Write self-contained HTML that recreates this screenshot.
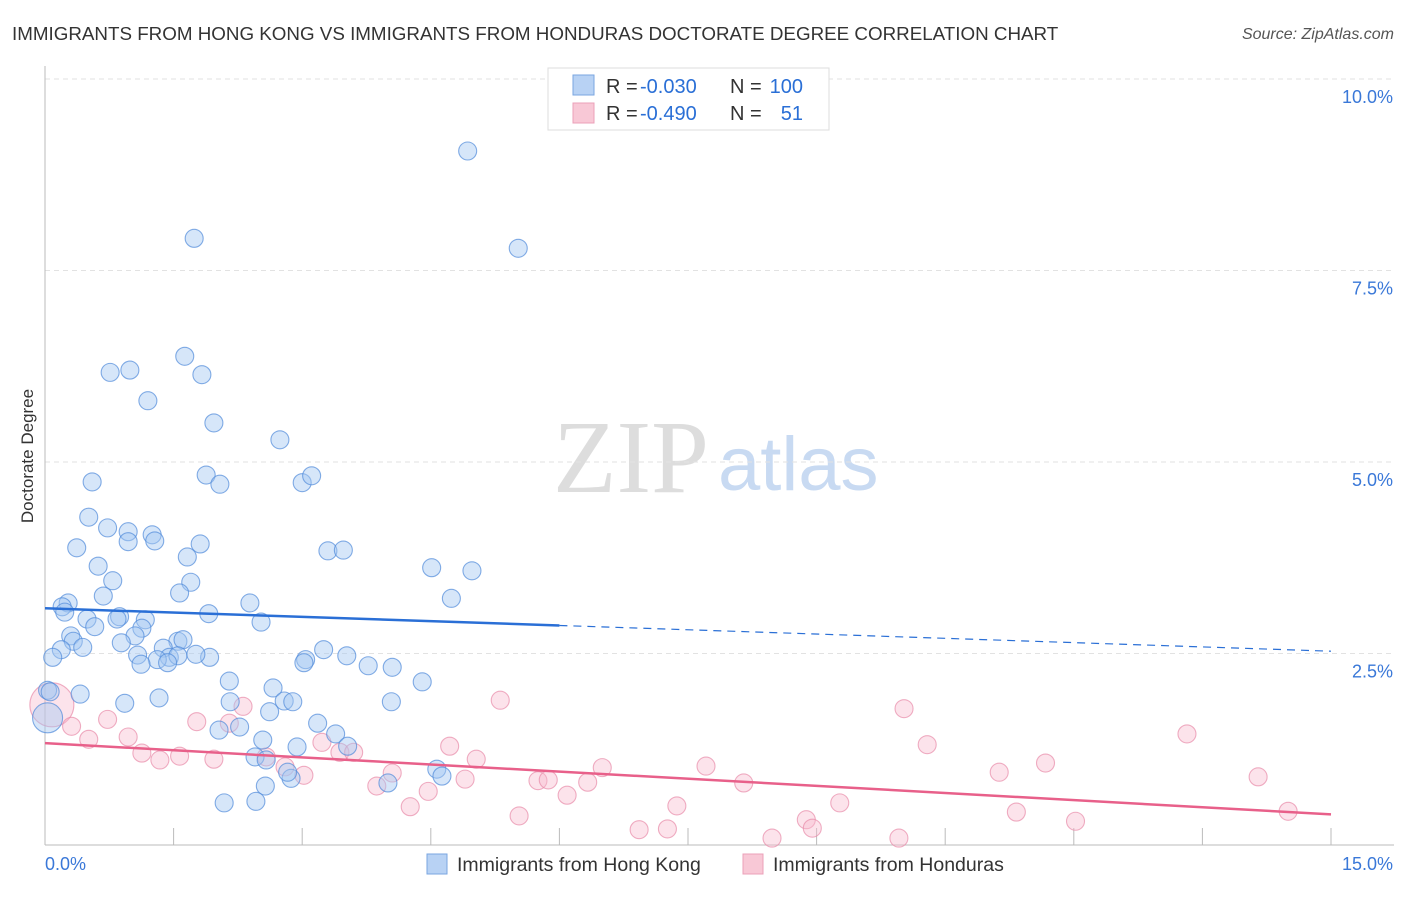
<!DOCTYPE html>
<html><head><meta charset="utf-8"><style>
body{margin:0;background:#fff;font-family:"Liberation Sans",sans-serif}
svg text{font-family:"Liberation Sans",sans-serif}
</style></head><body>
<svg id="chart" width="1406" height="892" xmlns="http://www.w3.org/2000/svg">
<text x="12" y="40" font-size="18.8" fill="#333">IMMIGRANTS FROM HONG KONG VS IMMIGRANTS FROM HONDURAS DOCTORATE DEGREE CORRELATION CHART</text>
<text x="1394" y="39" font-size="16" fill="#555" text-anchor="end" font-style="italic">Source: ZipAtlas.com</text>
<g>
<text x="553" y="492" font-size="104" fill="#ddd" font-family="Liberation Serif" style="font-family:'Liberation Serif',serif">ZIP</text>
<text x="718" y="490" font-size="76" fill="#c8daf2">atlas</text>
</g>
<text transform="translate(33,456) rotate(-90)" font-size="17" fill="#333" text-anchor="middle">Doctorate Degree</text>
<g id="grid"></g><g id="axes"></g><g id="pts"></g><g id="trend"></g>
<g>
<rect x="548" y="68" width="281" height="62" fill="#fff" stroke="#ddd"/>
<rect x="573" y="75" width="21" height="20" fill="#b8d2f4" stroke="#7aa6e0"/>
<rect x="573" y="103" width="21" height="20" fill="#f8c8d6" stroke="#eba0b8"/>
<text x="606" y="93" font-size="20" fill="#333">R =</text>
<text x="640" y="93" font-size="20" fill="#2a6fd6">-0.030</text>
<text x="730" y="93" font-size="20" fill="#333">N =</text>
<text x="803" y="93" font-size="20" fill="#2a6fd6" text-anchor="end">100</text>
<text x="606" y="120" font-size="20" fill="#333">R =</text>
<text x="640" y="120" font-size="20" fill="#2a6fd6">-0.490</text>
<text x="730" y="120" font-size="20" fill="#333">N =</text>
<text x="803" y="120" font-size="20" fill="#2a6fd6" text-anchor="end">51</text>
</g>
<g>
<rect x="427" y="854" width="20" height="20" fill="#b8d2f4" stroke="#7aa6e0"/>
<text x="457" y="871" font-size="19.5" fill="#333">Immigrants from Hong Kong</text>
<rect x="743" y="854" width="20" height="20" fill="#f8c8d6" stroke="#eba0b8"/>
<text x="773" y="871" font-size="19.5" fill="#333">Immigrants from Honduras</text>
</g>
</svg>
<script>
const xTicks=[0,1.5,3,4.5,6,7.5,9,10.5,12,13.5,15];
const yTicks=[2.5,5,7.5,10];
const yTickLabels=["2.5%","5.0%","7.5%","10.0%"];
const xEndLabels=["0.0%","15.0%"];
const blueX=[4.93,5.52,1.74,1.63,0.76,0.99,1.83,1.20,1.97,2.74,1.88,2.04,0.55,3.00,3.11,0.51,0.73,0.97,1.25,1.28,0.37,0.97,1.81,1.66,3.30,3.48,0.62,0.79,1.70,4.51,4.98,1.57,0.68,4.74,2.39,0.27,0.20,0.23,1.91,0.87,1.17,0.84,2.52,0.49,0.58,1.13,0.30,0.33,1.05,0.44,1.55,1.61,0.89,1.38,3.25,0.19,0.09,1.08,1.45,1.55,1.92,1.31,1.43,1.12,1.76,3.04,3.02,3.52,3.77,4.05,4.40,2.15,2.66,0.03,0.06,0.41,1.33,0.93,2.16,2.79,2.89,4.04,2.62,3.18,2.03,2.27,3.39,2.54,2.94,3.53,2.45,2.58,4.57,4.63,2.87,2.83,2.57,4.00,2.09,2.46,0.03];
const blueY=[9.06,7.79,7.92,6.38,6.17,6.20,6.14,5.80,5.51,5.29,4.83,4.71,4.74,4.73,4.82,4.28,4.14,4.09,4.05,3.97,3.88,3.96,3.93,3.76,3.84,3.85,3.64,3.45,3.43,3.62,3.58,3.29,3.25,3.22,3.16,3.16,3.11,3.04,3.02,2.98,2.94,2.95,2.91,2.95,2.85,2.83,2.73,2.66,2.73,2.58,2.66,2.68,2.64,2.57,2.55,2.55,2.45,2.48,2.45,2.47,2.45,2.42,2.38,2.36,2.49,2.42,2.38,2.47,2.34,2.32,2.13,2.14,2.05,2.02,2.00,1.97,1.92,1.85,1.87,1.88,1.87,1.87,1.74,1.59,1.50,1.54,1.45,1.37,1.28,1.29,1.15,1.11,0.99,0.90,0.87,0.95,0.77,0.81,0.55,0.57,1.66];
const pinkX=[0.08,0.31,0.51,0.73,0.97,1.13,1.34,1.57,1.97,1.77,2.15,2.31,2.58,2.80,3.02,3.23,3.44,3.60,3.87,4.05,4.26,4.47,4.72,4.90,5.03,5.31,5.53,5.75,5.87,6.09,6.33,6.50,6.93,7.26,7.37,7.71,8.15,8.48,8.88,8.95,9.27,9.96,10.02,10.29,11.13,11.33,11.67,12.02,13.32,14.15,14.50];
const pinkY=[1.83,1.55,1.38,1.64,1.41,1.20,1.11,1.16,1.12,1.61,1.59,1.81,1.15,1.02,0.91,1.34,1.21,1.21,0.77,0.94,0.50,0.70,1.29,0.86,1.12,1.89,0.38,0.84,0.85,0.65,0.82,1.01,0.20,0.21,0.51,1.03,0.81,0.09,0.33,0.22,0.55,0.09,1.78,1.31,0.95,0.43,1.07,0.31,1.45,0.89,0.44];
const blueTrend=[3.09,2.53];
const pinkTrend=[1.33,0.40];
const blueSolidEnd=6;

const X0=45,X1=1331,Y0=845,Y10=79;
const sx=v=>X0+(X1-X0)*v/15;
const sy=v=>Y0-(Y0-Y10)*v/10;
const NS="http://www.w3.org/2000/svg";
function mk(p,t,a){const e=document.createElementNS(NS,t);for(const k in a)e.setAttribute(k,a[k]);p.appendChild(e);return e;}
const grid=document.getElementById('grid'),axes=document.getElementById('axes'),pts=document.getElementById('pts'),tr=document.getElementById('trend');
yTicks.forEach((v,i)=>{
 const l=mk(grid,'line',{x1:X0,x2:1394,y1:sy(v),y2:sy(v),stroke:'#e2e2e2','stroke-dasharray':'5,4'});
 
 
 const t=mk(axes,'text',{x:1393,y:sy(v)+24,'font-size':18,fill:'#3a78d8','text-anchor':'end'});
 t.textContent=yTickLabels[i];
 
 
});
const ax=mk(axes,'line',{x1:X0,x2:X0,y1:66,y2:Y0,stroke:'#bbb'});


const bx=mk(axes,'line',{x1:X0,x2:1394,y1:Y0,y2:Y0,stroke:'#bbb'});


xTicks.forEach(v=>{
 const t=mk(axes,'line',{x1:sx(v),x2:sx(v),y1:Y0-17,y2:Y0,stroke:'#bbb'});
 
 
});
[[0,'start',45],[1,'end',1393]].forEach(([i,a,x])=>{
 const t=mk(axes,'text',{x:x,y:870,'font-size':18,fill:'#3a78d8','text-anchor':a});
 t.textContent=xEndLabels[i];
 
 
});
function dots(xs,ys,fill,stroke,name,bigIdx,bigR){
 xs.forEach((x,i)=>{
  const c=mk(pts,'circle',{cx:sx(x),cy:sy(ys[i]),r:i===bigIdx?bigR:9,fill:fill,stroke:stroke,'stroke-width':1.1});
  
  
 });
}
dots(pinkX,pinkY,'rgba(248,185,205,0.4)','rgba(232,140,170,0.7)','honduras-point',0,22);
dots(blueX,blueY,'rgba(165,200,242,0.45)','rgba(80,138,218,0.7)','hong-kong-point',blueX.length-1,15);
const by=x=>blueTrend[0]+(blueTrend[1]-blueTrend[0])*x/15;
const bl=mk(tr,'line',{x1:sx(0),y1:sy(by(0)),x2:sx(blueSolidEnd),y2:sy(by(blueSolidEnd)),stroke:'#2a6fd6','stroke-width':2.5});


const bd=mk(tr,'line',{x1:sx(blueSolidEnd),y1:sy(by(blueSolidEnd)),x2:sx(15),y2:sy(by(15)),stroke:'#2a6fd6','stroke-width':1.2,'stroke-dasharray':'8,6'});


const pl=mk(tr,'line',{x1:sx(0),y1:sy(pinkTrend[0]),x2:sx(15),y2:sy(pinkTrend[1]),stroke:'#e8608a','stroke-width':2.5});


</script>
</body></html>
